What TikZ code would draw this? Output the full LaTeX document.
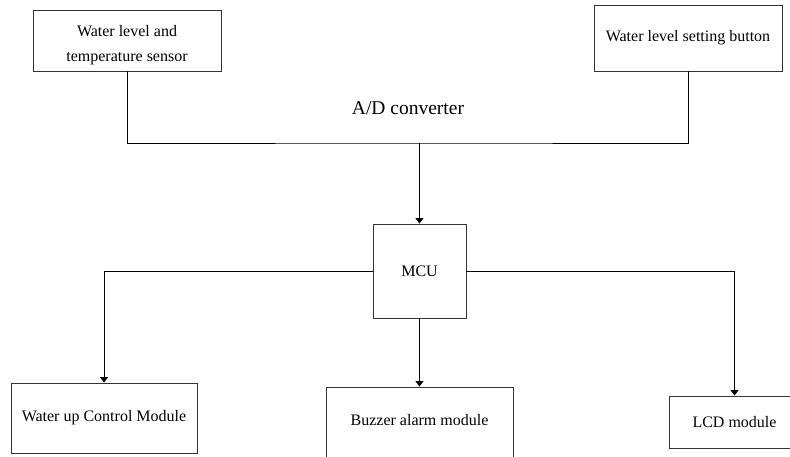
\documentclass[tikz,border=0pt]{standalone}
\usepackage{fontspec}
\setmainfont{Liberation Serif}
\usetikzlibrary{arrows.meta}
\begin{document}
\begin{tikzpicture}[x=1pt,y=-1pt,
  box/.style={draw=black!80, line width=0.9pt, rectangle, inner sep=0pt, align=center,
    font=\fontsize{16}{25}\selectfont},
  lbl/.style={inner sep=0pt, align=center, font=\fontsize{16}{25}\selectfont},
  conn/.style={draw=black, line width=0.9pt},
  arr/.style={conn, -{Triangle[width=8pt,length=5.5pt]}}]
\useasboundingbox (0,0) rectangle (790,457);
\node[box, minimum width=188pt, minimum height=61pt] (sensor) at (127,40.5) {};
\node[lbl] (sensortext) at (127,45) {Water level and\\temperature sensor};
\node[box, minimum width=188pt, minimum height=66pt] (button) at (688,38) {Water level setting button};
\node[lbl, font=\fontsize{19.5}{23}\selectfont] (ad) at (408,108) {A/D converter};
\coordinate (bus) at (420,143);
\node[box, minimum width=93pt, minimum height=94pt] (mcu) at (419.5,271) {MCU};
\node[box, minimum width=186pt, minimum height=70pt] (up) at (104,418) {Water up Control Module};
\node[box, minimum width=187pt, minimum height=83pt] (buzzer) at (419.5,428.5) {};
\node[lbl] (buzzertext) at (419.5,420) {Buzzer alarm module};
\node[box, minimum width=131pt, minimum height=52pt] (lcd) at (734.5,422) {LCD module};
\draw[conn] (sensor.south) |- (bus) -| (button.south);
\draw[arr] (mcu.north |- bus) -- (mcu.north);
\draw[arr] (mcu.west) -| (up.north);
\draw[arr] (mcu.south) -- (buzzer.north);
\draw[arr] (mcu.east) -| (lcd.north);
\end{tikzpicture}
\end{document}
